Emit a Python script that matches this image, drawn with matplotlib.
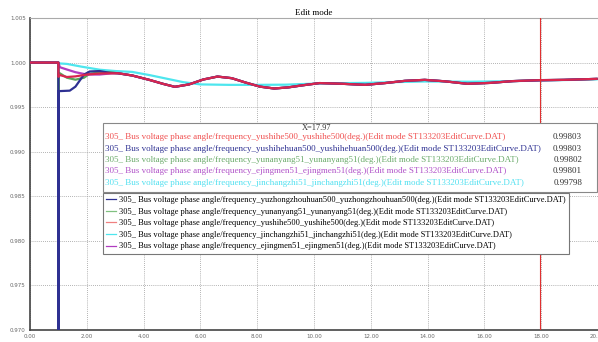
# -*- coding: utf-8 -*-
"""
Edit mode: bus voltage phase angle / frequency curves with cursor readout
"""
import numpy as np
import matplotlib
matplotlib.use('Agg')
import matplotlib.pyplot as plt
from matplotlib.patches import Rectangle

# shared oscillation after the transient (s, value)
tail_t = [3.1, 3.6, 4.2, 4.7, 5.1, 5.6, 6.1, 6.6, 7.1, 7.6, 8.1, 8.6, 9.1, 9.6,
          10.2, 11.0, 11.8, 12.5, 13.2, 13.9, 14.6, 15.4, 16.2, 17.0, 18.8, 19.95]
tail_v = [0.99880, 0.99855, 0.99806, 0.99760, 0.99728, 0.99755, 0.99810, 0.99843,
          0.99825, 0.99775, 0.99730, 0.99709, 0.99722, 0.99745, 0.99770, 0.99762,
          0.99750, 0.99770, 0.99795, 0.99806, 0.99790, 0.99762, 0.99772, 0.99792,
          0.99806, 0.99817]

# early transient of each bus
yuzhong_t = [0.0, 1.0, 1.0, 1.002, 1.05, 1.4, 1.6, 1.9, 2.1, 2.45, 2.8]
yuzhong_v = [1.0, 1.0, 0.960, 0.99680, 0.99680, 0.99685, 0.99730, 0.99865, 0.99900, 0.99905, 0.99885]

yunanyang_t = [0.0, 1.0, 1.0, 1.002, 1.05, 1.3, 1.6, 1.9, 2.1, 2.45, 2.8]
yunanyang_v = [1.0, 1.0, 0.99574, 0.99870, 0.99880, 0.99830, 0.99808, 0.99830, 0.99875, 0.99888, 0.99891]

yushihe_t = [0.0, 1.0, 1.0, 1.05, 1.3, 1.6, 2.0, 2.5]
yushihe_v = [1.0, 1.0, 0.99840, 0.99860, 0.99838, 0.99845, 0.99866, 0.99878]

ejingmen_t = [0.0, 1.0, 1.05, 1.3, 1.6, 2.0, 2.45, 2.9]
ejingmen_v = [1.0, 1.0, 0.99948, 0.99922, 0.99892, 0.99866, 0.99866, 0.99880]

jinchang_t = [0.0, 1.0, 1.05, 1.3, 1.8, 2.45, 3.0, 3.6, 4.2, 4.8, 5.4, 6.0, 7.0, 8.0,
              9.0, 9.5, 10.5, 11.8, 13.0, 13.9, 15.5, 17.0, 19.95]
jinchang_v = [1.0, 1.0, 0.99990, 0.99985, 0.99955, 0.99920, 0.99905, 0.99895, 0.99860,
              0.99820, 0.99780, 0.99755, 0.99750, 0.99750, 0.99752, 0.99758, 0.99768,
              0.99772, 0.99782, 0.99788, 0.99785, 0.99792, 0.99812]

# cursor position and values shown in the readout box
cursor_x = 17.97
cur_yushihe = 0.99803
cur_yuzhong = 0.99803
cur_yunanyang = 0.99802
cur_ejingmen = 0.99801
cur_jinchang = 0.99798

x_ticks = [0, 2, 4, 6, 8, 10, 12, 14, 16, 18, 20]
y_ticks = [0.970, 0.975, 0.980, 0.985, 0.990, 0.995, 1.000, 1.005]

pre = '305_ Bus voltage phase angle/frequency_'
post = '(deg.)(Edit mode ST133203EditCurve.DAT)'

C_NAVY = '#2e3192'
C_GREEN = '#5aa35a'
C_RED = '#d8264e'
C_CYAN = '#4ee6ee'
C_MAG = '#b03cc0'


def with_cursor(t, v, cv):
    # add the cursor sample so the curve passes through the read-out value
    t = list(t)
    v = list(v)
    i = int(np.searchsorted(t, cursor_x))
    t.insert(i, cursor_x)
    v.insert(i, cv)
    return np.array(t), np.array(v)


series = [
    # name, color, legend color, times, values, cursor value, zorder
    ('jinchangzhi51', C_CYAN, C_CYAN, jinchang_t, jinchang_v, cur_jinchang, 2),
    ('yunanyang51', C_GREEN, '#80c080', yunanyang_t + tail_t, yunanyang_v + tail_v, cur_yunanyang, 3),
    ('ejingmen51', C_MAG, C_MAG, ejingmen_t + tail_t, ejingmen_v + tail_v, cur_ejingmen, 4),
    ('yuzhongzhouhuan500', C_NAVY, C_NAVY, yuzhong_t + tail_t, yuzhong_v + tail_v, cur_yuzhong, 5),
    ('yushihe500', C_RED, '#f08080', yushihe_t + tail_t, yushihe_v + tail_v, cur_yushihe, 6),
]

fig = plt.figure(figsize=(5.98, 3.42), dpi=100)
ax = fig.add_axes([30 / 598, 12 / 342, 568 / 598, 312 / 342])

lines = {}
for name, col, lcol, t, v, cv, z in series:
    tt, vv = with_cursor(t, v, cv)
    ax.plot(tt, vv, color=col, lw=1.6, zorder=z)
    lines[name] = (lcol, f'{name}_{name}')

ax.axvline(cursor_x, color='#e03030', lw=0.8, zorder=7)

ax.set_xlim(0, 19.93)
ax.set_ylim(0.970, 1.005)
ax.set_xticks(x_ticks)
ax.set_xticklabels([f'{x:.2f}' for x in x_ticks])
ax.set_yticks(y_ticks)
ax.set_yticklabels([f'{y:.3f}' for y in y_ticks])
ax.tick_params(labelsize=4, colors='#666666', length=0, pad=3)
ax.grid(True, color='#9a9a9a', linestyle=(0, (1, 1.5)), lw=0.6)

for s in ['left', 'bottom']:
    ax.spines[s].set_color('#444444')
    ax.spines[s].set_linewidth(1.2)
ax.spines['top'].set_color('#aaaaaa')
ax.spines['top'].set_linewidth(0.8)
ax.spines['right'].set_visible(False)

ax.set_title('Edit mode', fontsize=6.5, family='Liberation Serif', pad=2)

# cursor readout box
fnt = 'Liberation Serif'
bx0, bx1 = (103 - 30) / 568, (597 - 30) / 568
by_top, by_bot = 1 - (123 - 18) / 312, 1 - (192 - 18) / 312
ax.add_patch(Rectangle((bx0, by_bot), bx1 - bx0, by_top - by_bot, transform=ax.transAxes,
                       facecolor='white', edgecolor='#888888', lw=0.8, zorder=10))
ax.text((317 - 30) / 568, 1 - (128 - 18) / 312, f'X={cursor_x:.2f}', transform=ax.transAxes,
        fontsize=6, family=fnt, color='#333333', ha='center', va='center', zorder=11)

readout = [
    ('yushihe500_yushihe500', '#f05050', cur_yushihe),
    ('yushihehuan500_yushihehuan500', C_NAVY, cur_yuzhong),
    ('yunanyang51_yunanyang51', '#6aaa6a', cur_yunanyang),
    ('ejingmen51_ejingmen51', '#b050c8', cur_ejingmen),
    ('jinchangzhi51_jinchangzhi51', '#50e0f0', cur_jinchang),
]
row_y = [137, 149, 160, 171, 183]
for (lab, col, val), ry in zip(readout, row_y):
    yy = 1 - (ry - 18) / 312
    ax.text((105 - 30) / 568, yy, pre + lab + post, transform=ax.transAxes, fontsize=6.45,
            family=fnt, color=col, ha='left', va='center', zorder=11)
    ax.text((582 - 30) / 568, yy, f'{val:.5f}', transform=ax.transAxes, fontsize=6.45,
            family=fnt, color='#333333', ha='right', va='center', zorder=11)

# legend
order = ['yuzhongzhouhuan500', 'yunanyang51', 'yushihe500', 'jinchangzhi51', 'ejingmen51']
handles = []
labels = []
for name in order:
    lcol, lab = lines[name]
    h, = ax.plot([], [], color=lcol, lw=0.9)
    handles.append(h)
    labels.append(pre + lab + post)
leg = ax.legend(handles, labels, loc='upper left',
                bbox_to_anchor=(bx0, 1 - (193 - 18) / 312), borderaxespad=0,
                prop={'family': fnt, 'size': 6.05}, frameon=True, fancybox=False,
                edgecolor='#777777', framealpha=1, handlelength=1.2, handletextpad=0.3,
                labelspacing=0.42, borderpad=0.4)
leg.get_frame().set_linewidth(0.8)
leg.set_zorder(12)

fig.savefig('out.png', dpi=100)
plt.close(fig)
